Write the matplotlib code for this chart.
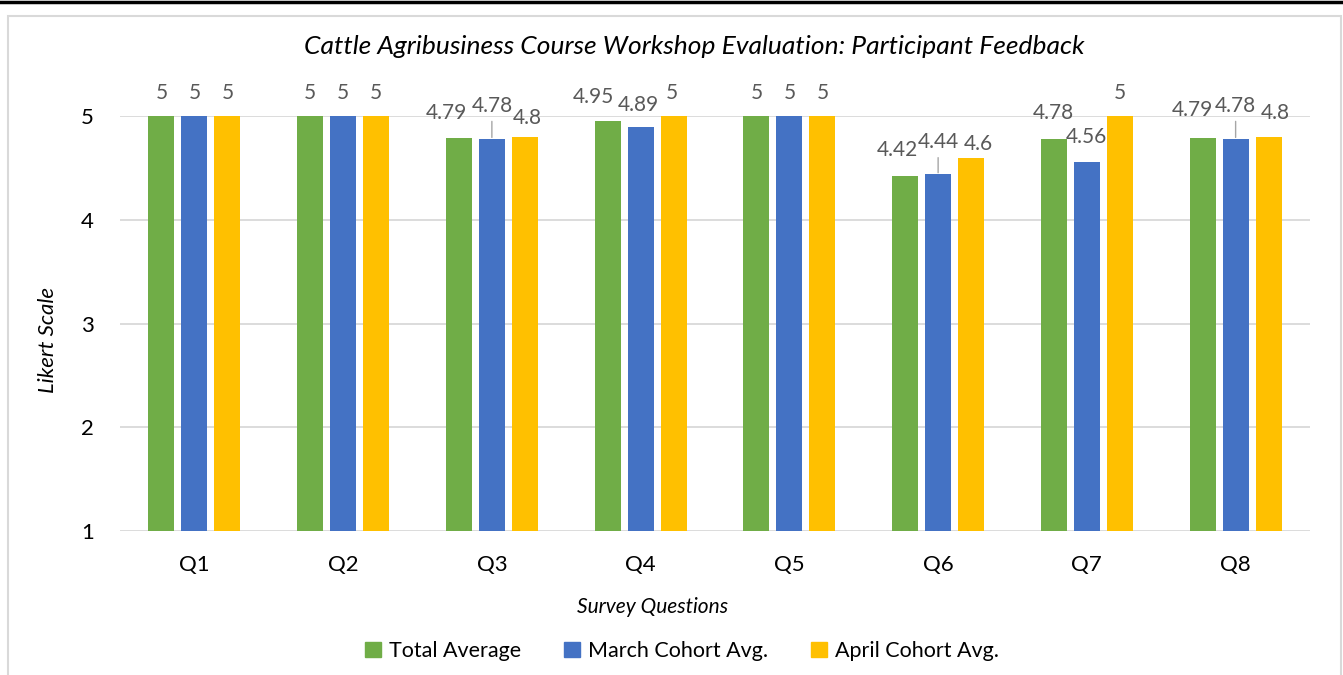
import numpy as np
import matplotlib.pyplot as plt
from matplotlib.patches import Patch, Rectangle
from matplotlib.lines import Line2D

plt.rcParams['font.family'] = ['Lato', 'DejaVu Sans']

questions = ["Q1", "Q2", "Q3", "Q4", "Q5", "Q6", "Q7", "Q8"]
series = ["Total Average", "March Cohort Avg.", "April Cohort Avg."]
total_avg = [5, 5, 4.79, 4.95, 5, 4.42, 4.78, 4.79]
march_avg = [5, 5, 4.78, 4.89, 5, 4.44, 4.56, 4.78]
april_avg = [5, 5, 4.8, 5, 5, 4.6, 5, 4.8]
colors = ["#70AD47", "#4472C4", "#FFC000"]

# label nudges in pixels (dx, height above bar top), Excel-style placement
label_adj = {
    (2, 0): (-12, 25), (2, 1): (0, 33), (2, 2): (2, 19),
    (3, 0): (-14, 24), (3, 1): (-2, 22), (3, 2): (-2, 23),
    (5, 0): (-8, 26), (5, 1): (0, 32), (5, 2): (7, 13),
    (6, 0): (-1, 26), (6, 1): (0, 25),
    (7, 0): (-10, 28), (7, 1): (0, 33), (7, 2): (7, 24),
}
leaders = {(2, 1), (5, 1), (7, 1)}

W, H = 1343, 675
fig = plt.figure(figsize=(W / 100, H / 100), dpi=100)
ax = fig.add_axes([120 / W, 1 - 531 / H, 1190 / W, 415 / H])

x = np.arange(len(questions))
step = 33 / 148.75
width = 26 / 148.75
px = 0.72  # points per pixel at dpi 100

for si, vals in enumerate([total_avg, march_avg, april_avg]):
    xs = x + (si - 1) * step
    ax.bar(xs, np.array(vals) - 1, bottom=1, width=width, color=colors[si],
           label=series[si], zorder=3)
    for qi, v in enumerate(vals):
        dx, dy = label_adj.get((qi, si), (0, 23))
        kw = {}
        if (qi, si) in leaders:
            kw['arrowprops'] = dict(arrowstyle='-', color='#A6A6A6', lw=1,
                                    shrinkA=2, shrinkB=1)
        ax.annotate(f"{v:g}", xy=(xs[qi], v), xytext=(dx * px, dy * px),
                    textcoords='offset points', ha='center', va='center',
                    fontsize=15, color='#595959', annotation_clip=False, **kw)

ax.set_xlim(-0.5, len(questions) - 0.5)
ax.set_ylim(1, 5)
ax.set_yticks([1, 2, 3, 4, 5])
ax.set_xticks(x)
ax.set_xticklabels(questions)
ax.tick_params(axis='both', length=0, labelsize=16, colors='#000000')
ax.tick_params(axis='y', pad=19)
ax.tick_params(axis='x', pad=17)
ax.grid(axis='y', color='#D9D9D9', lw=1.3, zorder=0)
for s in ax.spines.values():
    s.set_visible(False)

fig.text(694 / W, 1 - 47 / H,
         "Cattle Agribusiness Course Workshop Evaluation: Participant Feedback",
         ha='center', va='center', fontsize=19, style='italic')
fig.text(653 / W, 1 - 607 / H, "Survey Questions", ha='center', va='center',
         fontsize=15, style='italic')
fig.text(48 / W, 1 - 340 / H, "Likert Scale", ha='center', va='center',
         fontsize=16, style='italic', rotation=90)

handles = [Patch(color=c, label=s) for c, s in zip(colors, series)]
fig.legend(handles=handles, loc='center', bbox_to_anchor=(682 / W, 1 - 651 / H),
           ncol=3, frameon=False, fontsize=15.5, handlelength=0.75,
           handleheight=0.75, handletextpad=0.35, columnspacing=2.0)

# chart frame and top rule
fig.patches.append(Rectangle((8 / W, -0.05), 1333 / W, 1 - 16 / H + 0.05,
                             transform=fig.transFigure, fill=False,
                             edgecolor='#D9D9D9', lw=1.5))
fig.lines.append(Line2D([0, 1], [1 - 1.5 / H, 1 - 1.5 / H],
                        transform=fig.transFigure, color='black', lw=2.5))

fig.savefig("out.png", dpi=100)
